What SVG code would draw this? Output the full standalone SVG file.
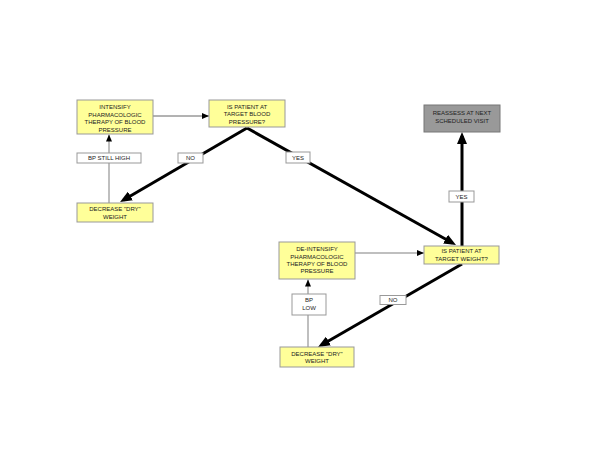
<svg xmlns="http://www.w3.org/2000/svg" width="600" height="450" viewBox="0 0 600 450">
<style>
.box{fill:#ffff99;stroke:#999;stroke-width:1}
.grey{fill:#999;stroke:#777;stroke-width:1}
.lbl{fill:#fff;stroke:#999;stroke-width:1}
text{font-family:"Liberation Sans",Arial,sans-serif;font-size:6px;fill:#222;text-anchor:middle}
.thick{stroke:#000;stroke-width:3;fill:none}
.thin{stroke:#aaa;stroke-width:1.5;fill:none}
.dark{stroke:#666;stroke-width:1;fill:none}
</style>
<defs>
<marker id="big" markerUnits="userSpaceOnUse" viewBox="0 0 12 10" markerWidth="12" markerHeight="10" refX="8" refY="5" orient="auto"><path d="M0,0 L12,5 L0,10 z" fill="#000"/></marker>
<marker id="small" markerUnits="userSpaceOnUse" viewBox="0 0 7 6" markerWidth="7" markerHeight="6" refX="7" refY="3" orient="auto"><path d="M0,0 L7,3 L0,6 z" fill="#000"/></marker>
</defs>
<rect width="600" height="450" fill="#fff"/>
<g id="connectors">
<line class="dark" x1="153" y1="116" x2="209" y2="116" marker-end="url(#small)"/>
<line class="thin" x1="109" y1="203" x2="109" y2="134.5" marker-end="url(#small)"/>
<line class="thin" x1="308" y1="347" x2="308" y2="279.5" marker-end="url(#small)"/>
<line class="thin" x1="355" y1="253" x2="424" y2="253" marker-end="url(#small)"/>
<line class="thick" x1="247" y1="128" x2="123.5" y2="200" marker-end="url(#big)"/>
<line class="thick" x1="247" y1="128" x2="452.5" y2="243" marker-end="url(#big)"/>
<line class="thick" x1="462" y1="246" x2="462" y2="136" marker-end="url(#big)"/>
<line class="thick" x1="462" y1="264" x2="321.5" y2="345" marker-end="url(#big)"/>
</g>
<g id="label-bp-still-high"><rect class="lbl" x="77" y="153" width="64" height="10"/><text x="109" y="160.2">BP STILL HIGH</text></g>
<g id="label-no1"><rect class="lbl" x="178" y="153" width="25" height="10"/><text x="190.5" y="160.2">NO</text></g>
<g id="label-yes1"><rect class="lbl" x="286" y="152" width="24" height="11"/><text x="298" y="159.7">YES</text></g>
<g id="label-yes2"><rect class="lbl" x="449" y="191" width="25" height="11"/><text x="461.5" y="198.7">YES</text></g>
<g id="label-bp-low"><rect class="lbl" x="292" y="294" width="34" height="21"/><text x="309" y="302">BP</text><text x="309" y="309.5">LOW</text></g>
<g id="label-no2"><rect class="lbl" x="380" y="295.5" width="26" height="9"/><text x="393" y="302.2">NO</text></g>
<g id="intensify"><rect class="box" x="77" y="100" width="76" height="34"/><text x="115" y="109">INTENSIFY</text><text x="115" y="116.5">PHARMACOLOGIC</text><text x="115" y="124">THERAPY OF BLOOD</text><text x="115" y="131.5">PRESSURE</text></g>
<g id="target-bp"><rect class="box" x="209" y="100" width="76" height="27"/><text x="247" y="108.5">IS PATIENT AT</text><text x="247" y="116">TARGET BLOOD</text><text x="247" y="123.5">PRESSURE?</text></g>
<g id="reassess"><rect class="grey" x="424" y="105" width="76" height="27"/><text x="462" y="114.5">REASSESS AT NEXT</text><text x="462" y="123">SCHEDULED VISIT</text></g>
<g id="decrease1"><rect class="box" x="77" y="203" width="76" height="19"/><text x="115" y="211">DECREASE "DRY"</text><text x="115" y="218.5">WEIGHT</text></g>
<g id="deintensify"><rect class="box" x="279" y="242" width="76" height="37"/><text x="317" y="251">DE-INTENSIFY</text><text x="317" y="258.5">PHARMACOLOGIC</text><text x="317" y="266">THERAPY OF BLOOD</text><text x="317" y="273">PRESSURE</text></g>
<g id="target-weight"><rect class="box" x="424" y="246" width="75" height="18"/><text x="461.5" y="253.3">IS PATIENT AT</text><text x="461.5" y="260.8">TARGET WEIGHT?</text></g>
<g id="decrease2"><rect class="box" x="280" y="347" width="74" height="20"/><text x="317" y="355.5">DECREASE "DRY"</text><text x="317" y="363">WEIGHT</text></g>
</svg>
